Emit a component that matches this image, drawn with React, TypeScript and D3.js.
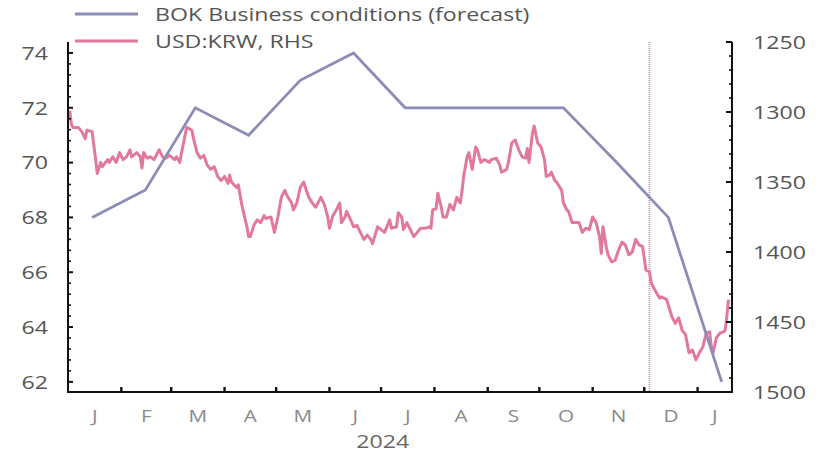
import * as d3 from "d3";
import React, { useEffect, useRef } from "react";

// BOK business conditions survey (forecast), mid-month readings
const bokDates = [
    "2024-01-15", "2024-02-15", "2024-03-15", "2024-04-15", "2024-05-15", "2024-06-15",
    "2024-07-15", "2024-08-15", "2024-09-15", "2024-10-15", "2024-11-15", "2024-12-15",
    "2025-01-15",
];
const bokValues = [68, 69, 72, 71, 73, 74, 72, 72, 72, 72, 70, 68, 62];

// USD:KRW (right axis, inverted)
const krwData: [string, number][] = [
    ["2024-01-02", 1299], ["2024-01-03", 1309], ["2024-01-04", 1311], ["2024-01-07", 1311],
    ["2024-01-09", 1314], ["2024-01-11", 1319], ["2024-01-12", 1313], ["2024-01-15", 1314],
    ["2024-01-17", 1333], ["2024-01-18", 1344], ["2024-01-20", 1336], ["2024-01-21", 1339],
    ["2024-01-24", 1334], ["2024-01-25", 1336], ["2024-01-27", 1332], ["2024-01-29", 1336],
    ["2024-01-31", 1329], ["2024-02-02", 1334], ["2024-02-04", 1332], ["2024-02-06", 1327],
    ["2024-02-07", 1332], ["2024-02-10", 1329], ["2024-02-12", 1332], ["2024-02-13", 1340],
    ["2024-02-14", 1329], ["2024-02-16", 1333], ["2024-02-18", 1332], ["2024-02-20", 1334],
    ["2024-02-23", 1327], ["2024-02-25", 1332], ["2024-02-27", 1333], ["2024-02-29", 1331],
    ["2024-03-03", 1334], ["2024-03-04", 1332], ["2024-03-06", 1336], ["2024-03-07", 1329],
    ["2024-03-10", 1311], ["2024-03-13", 1313], ["2024-03-14", 1319], ["2024-03-16", 1329],
    ["2024-03-18", 1333], ["2024-03-20", 1331], ["2024-03-22", 1338], ["2024-03-24", 1341],
    ["2024-03-26", 1339], ["2024-03-28", 1346], ["2024-03-30", 1349], ["2024-04-01", 1346],
    ["2024-04-03", 1351], ["2024-04-04", 1345], ["2024-04-05", 1350], ["2024-04-08", 1354],
    ["2024-04-09", 1352], ["2024-04-11", 1366], ["2024-04-14", 1382], ["2024-04-15", 1389],
    ["2024-04-16", 1389], ["2024-04-18", 1381], ["2024-04-20", 1377], ["2024-04-22", 1379],
    ["2024-04-24", 1374], ["2024-04-25", 1376], ["2024-04-28", 1375], ["2024-04-30", 1386],
    ["2024-05-02", 1375], ["2024-05-04", 1361], ["2024-05-06", 1356], ["2024-05-07", 1359],
    ["2024-05-10", 1365], ["2024-05-11", 1370], ["2024-05-13", 1365], ["2024-05-15", 1354],
    ["2024-05-17", 1350], ["2024-05-18", 1354], ["2024-05-20", 1361], ["2024-05-22", 1365],
    ["2024-05-24", 1368], ["2024-05-27", 1361], ["2024-05-29", 1366], ["2024-05-31", 1375],
    ["2024-06-01", 1383], ["2024-06-03", 1374], ["2024-06-05", 1370], ["2024-06-07", 1365],
    ["2024-06-08", 1379], ["2024-06-10", 1375], ["2024-06-11", 1371], ["2024-06-14", 1379],
    ["2024-06-15", 1382], ["2024-06-17", 1381], ["2024-06-19", 1386], ["2024-06-21", 1391],
    ["2024-06-23", 1388], ["2024-06-25", 1391], ["2024-06-26", 1394], ["2024-06-29", 1382],
    ["2024-07-01", 1384], ["2024-07-03", 1386], ["2024-07-06", 1377], ["2024-07-07", 1383],
    ["2024-07-10", 1382], ["2024-07-11", 1372], ["2024-07-13", 1375], ["2024-07-14", 1384],
    ["2024-07-16", 1379], ["2024-07-18", 1384], ["2024-07-20", 1389], ["2024-07-22", 1386],
    ["2024-07-24", 1383], ["2024-07-27", 1383], ["2024-07-29", 1382], ["2024-07-30", 1383],
    ["2024-07-31", 1370], ["2024-08-02", 1369], ["2024-08-03", 1358], ["2024-08-05", 1368],
    ["2024-08-06", 1375], ["2024-08-08", 1375], ["2024-08-10", 1366], ["2024-08-12", 1370],
    ["2024-08-14", 1361], ["2024-08-16", 1365], ["2024-08-17", 1357], ["2024-08-18", 1346],
    ["2024-08-20", 1332], ["2024-08-21", 1329], ["2024-08-23", 1341], ["2024-08-25", 1325],
    ["2024-08-26", 1327], ["2024-08-28", 1336], ["2024-08-30", 1334], ["2024-09-02", 1336],
    ["2024-09-03", 1334], ["2024-09-06", 1333], ["2024-09-08", 1338], ["2024-09-09", 1343],
    ["2024-09-12", 1341], ["2024-09-13", 1336], ["2024-09-15", 1322], ["2024-09-17", 1320],
    ["2024-09-19", 1327], ["2024-09-21", 1332], ["2024-09-23", 1333], ["2024-09-24", 1326],
    ["2024-09-25", 1336], ["2024-09-27", 1315], ["2024-09-28", 1310], ["2024-09-30", 1322],
    ["2024-10-02", 1325], ["2024-10-04", 1334], ["2024-10-05", 1346], ["2024-10-07", 1345],
    ["2024-10-08", 1343], ["2024-10-10", 1349], ["2024-10-11", 1350], ["2024-10-14", 1356],
    ["2024-10-15", 1365], ["2024-10-17", 1370], ["2024-10-18", 1371], ["2024-10-20", 1379],
    ["2024-10-22", 1379], ["2024-10-24", 1379], ["2024-10-26", 1386], ["2024-10-28", 1383],
    ["2024-10-30", 1384], ["2024-11-01", 1375], ["2024-11-03", 1379], ["2024-11-05", 1389],
    ["2024-11-06", 1401], ["2024-11-07", 1382], ["2024-11-09", 1397], ["2024-11-10", 1402],
    ["2024-11-12", 1407], ["2024-11-14", 1406], ["2024-11-16", 1399], ["2024-11-18", 1393],
    ["2024-11-20", 1395], ["2024-11-22", 1402], ["2024-11-24", 1400], ["2024-11-26", 1391],
    ["2024-11-28", 1395], ["2024-11-30", 1396], ["2024-12-02", 1413], ["2024-12-04", 1414],
    ["2024-12-05", 1422], ["2024-12-08", 1429], ["2024-12-10", 1433], ["2024-12-11", 1432],
    ["2024-12-14", 1434], ["2024-12-15", 1438], ["2024-12-17", 1446], ["2024-12-19", 1451],
    ["2024-12-21", 1447], ["2024-12-23", 1456], ["2024-12-25", 1459], ["2024-12-27", 1472],
    ["2024-12-29", 1470], ["2024-12-31", 1477], ["2025-01-02", 1472], ["2025-01-04", 1468],
    ["2025-01-06", 1458], ["2025-01-08", 1457], ["2025-01-09", 1468], ["2025-01-10", 1472],
    ["2025-01-12", 1461], ["2025-01-14", 1458], ["2025-01-16", 1457], ["2025-01-17", 1456],
    ["2025-01-18", 1446], ["2025-01-19", 1434],
];

const leftTicks = [62, 64, 66, 68, 70, 72, 74];
const rightTicks = [1250, 1300, 1350, 1400, 1450, 1500];
const monthLabels = ["J", "F", "M", "A", "M", "J", "J", "A", "S", "O", "N", "D", "J"];
const eventDate = "2024-12-04";
const legendLabels = ["BOK Business conditions (forecast)", "USD:KRW, RHS"];

const parse = d3.timeParse("%Y-%m-%d");
const BLUE = "#8c8cb6";
const PINK = "#e2789e";
const FONT = "'Open Sans', sans-serif";
const STRETCH = 1.22; // the original's lettering is drawn wide

type G = d3.Selection<SVGGElement, unknown, null, undefined>;

// text stretched horizontally about its anchor point
function label(
    g: G, x: number, y: number, text: string | number,
    size: number, fill: string, anchor = "start"
) {
    g.append("text")
        .attr("transform", `translate(${x},${y}) scale(${STRETCH},1)`)
        .attr("dy", "0.36em")
        .attr("text-anchor", anchor)
        .attr("font-family", FONT)
        .attr("font-size", size)
        .attr("fill", fill)
        .text(text);
}

const App: React.FC = () => {
    const svgRef = useRef<SVGSVGElement>(null);

    useEffect(() => {
        if (!svgRef.current) return;
        const svg = d3.select(svgRef.current);
        svg.selectAll("*").remove();

        const left = 68, right = 732, top = 42, bottom = 392;

        const x = d3
            .scaleTime()
            .domain([parse("2024-01-01") as Date, parse("2025-01-21") as Date])
            .range([left, right]);
        const yL = d3.scaleLinear().domain([61.63, 74.4]).range([bottom, top]);
        const yR = d3.scaleLinear().domain([1250, 1500]).range([top, bottom]);

        // event marker
        const ex = x(parse(eventDate) as Date);
        svg.append("line")
            .attr("x1", ex).attr("x2", ex)
            .attr("y1", top).attr("y2", bottom)
            .attr("stroke", "#c58ab5")
            .attr("stroke-width", 1.8)
            .attr("stroke-dasharray", "1,1");

        // series
        const krwLine = d3
            .line<[string, number]>()
            .x((d) => x(parse(d[0]) as Date))
            .y((d) => yR(d[1]));
        svg.append("path")
            .datum(krwData)
            .attr("fill", "none")
            .attr("stroke", PINK)
            .attr("stroke-width", 3)
            .attr("stroke-linejoin", "round")
            .attr("d", krwLine);

        const bokLine = d3
            .line<number>()
            .x((_, i) => x(parse(bokDates[i]) as Date))
            .y((d) => yL(d));
        svg.append("path")
            .datum(bokValues)
            .attr("fill", "none")
            .attr("stroke", BLUE)
            .attr("stroke-width", 2.8)
            .attr("d", bokLine);

        // axes lines
        const axisG = svg.append("g").attr("stroke", "#111").attr("fill", "none");
        axisG.append("path")
            .attr("stroke-width", 2)
            .attr("d", `M${left},${top}V${bottom}H${right}V${top}`);

        // left ticks: major inward, minor every 0.4
        const leftMinor = d3.range(62, 74.01, 0.4).filter((v) => Math.abs(v - Math.round(v / 2) * 2) > 0.01);
        leftTicks.forEach((v) => {
            axisG.append("line")
                .attr("x1", left).attr("x2", left + 5)
                .attr("y1", yL(v)).attr("y2", yL(v))
                .attr("stroke-width", 2);
        });
        leftMinor.forEach((v) => {
            axisG.append("line")
                .attr("x1", left).attr("x2", left + 3)
                .attr("y1", yL(v)).attr("y2", yL(v))
                .attr("stroke-width", 1.6);
        });

        // right ticks: major inward, minor every 10
        const rightMinor = d3.range(1250, 1501, 10).filter((v) => v % 50 !== 0);
        rightTicks.forEach((v) => {
            axisG.append("line")
                .attr("x1", right - 6).attr("x2", right)
                .attr("y1", yR(v)).attr("y2", yR(v))
                .attr("stroke-width", 2);
        });
        rightMinor.forEach((v) => {
            axisG.append("line")
                .attr("x1", right - 3).attr("x2", right)
                .attr("y1", yR(v)).attr("y2", yR(v))
                .attr("stroke-width", 1.6);
        });

        // month ticks on x axis
        const months = d3.timeMonth.range(parse("2024-02-01") as Date, parse("2025-01-02") as Date);
        months.forEach((m) => {
            axisG.append("line")
                .attr("x1", x(m)).attr("x2", x(m))
                .attr("y1", bottom).attr("y2", bottom - 5)
                .attr("stroke-width", 2.4);
        });

        // tick labels
        const labels = svg.append("g");
        leftTicks.forEach((v) => label(labels, 48, yL(v), v, 19, "#555", "end"));
        rightTicks.forEach((v) => label(labels, 753, yR(v), v, 19, "#555"));

        const monthStarts = d3.timeMonth.range(parse("2024-01-01") as Date, parse("2025-01-02") as Date);
        monthLabels.forEach((m, i) => {
            const s = x(monthStarts[i]);
            const e = i + 1 < monthStarts.length ? x(monthStarts[i + 1]) : right;
            label(labels, (s + e) / 2, 416, m, 17, "#8a8a8a", "middle");
        });

        label(
            labels,
            (x(parse("2024-01-01") as Date) + x(parse("2025-01-01") as Date)) / 2,
            441, "2024", 19, "#666", "middle"
        );

        // legend
        const legend = svg.append("g");
        [BLUE, PINK].forEach((c, i) => {
            const ly = 14 + i * 27;
            legend.append("line")
                .attr("x1", 75).attr("x2", 138)
                .attr("y1", ly).attr("y2", ly)
                .attr("stroke", c)
                .attr("stroke-width", 2.8);
            label(legend, 155, ly, legendLabels[i], 19, "#555");
        });
    }, []);

    return (
        <svg
            ref={svgRef}
            width={822}
            height={455}
            style={{ position: "absolute", left: 0, top: 0, background: "#fff" }}
        />
    );
};

export default App;
